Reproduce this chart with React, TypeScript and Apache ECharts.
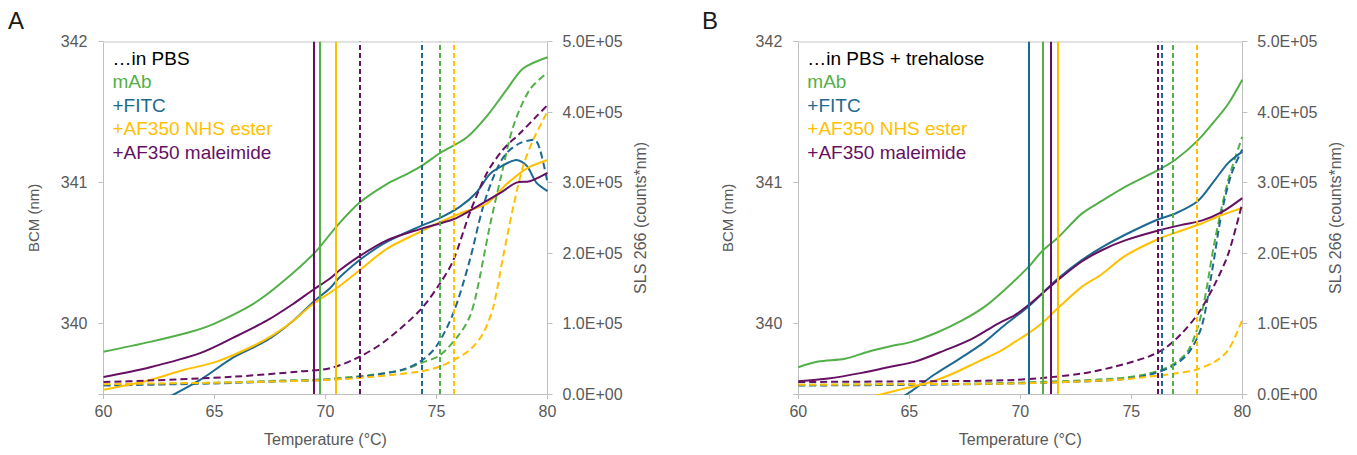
import { useEffect, useRef } from "react";
import * as echarts from "echarts";

const FONT = "'Liberation Sans', Arial, Helvetica, sans-serif";
const AXIS_COLOR = "#BFBFBF";
const TOP_LINE_COLOR = "#D9D9D9";
const LABEL_COLOR = "#595959";

const temperatureRange = [60, 80];
const temperatureInterval = 5;
const bcmRange = [339.5, 342];
const bcmLabelTicks = [340, 341, 342];
const bcmTickMarks = [339.5, 340, 341, 342];
const slsRange = [0, 500000];
const slsInterval = 100000;

const sampleNames = ["mAb", "+FITC", "+AF350 NHS ester", "+AF350 maleimide"];
const sampleColors = ["#53B048", "#1D6991", "#FFC000", "#661064"];
const panelTitles = ["…in PBS", "…in PBS + trehalose"];
const panelLetters = ["A", "B"];

// ---------- Panel A: in PBS ----------
const aMabBcm = [[60, 339.8], [62.1, 339.87], [63.9, 339.94], [65, 340.0], [66.75, 340.14], [67.95, 340.28], [69.5, 340.5], [70.5, 340.69], [71.55, 340.86], [72.76, 340.99], [73.66, 341.06], [74.35, 341.12], [75.16, 341.21], [76.36, 341.32], [77.26, 341.47], [78.16, 341.66], [78.9, 341.81], [80, 341.89]];
const aFitcBcm = [[62.6, 339.45], [64.35, 339.6], [65.85, 339.76], [67.35, 339.88], [68.55, 340.02], [69.5, 340.16], [70.2, 340.25], [70.65, 340.33], [71.7, 340.47], [72.76, 340.58], [74.26, 340.69], [75.16, 340.75], [76.06, 340.83], [76.8, 340.93], [77.4, 341.06], [77.86, 341.11], [78.6, 341.16], [79.06, 341.12], [79.5, 341.0], [80, 340.94]];
const aNhsBcm = [[60, 339.53], [62.1, 339.6], [63.6, 339.67], [65.1, 339.73], [66.6, 339.83], [67.65, 339.92], [68.55, 340.02], [69.45, 340.14], [70.5, 340.25], [71.55, 340.38], [72.76, 340.53], [74.26, 340.65], [75.16, 340.72], [76.2, 340.79], [77.26, 340.85], [78.16, 340.99], [79.06, 341.1], [80, 341.16]];
const aMalBcm = [[60, 339.62], [62.1, 339.69], [64.35, 339.79], [65.85, 339.9], [67.35, 340.02], [68.55, 340.14], [69.45, 340.24], [70.2, 340.32], [70.65, 340.38], [71.55, 340.48], [72.76, 340.59], [74.26, 340.67], [75.76, 340.74], [76.5, 340.8], [77.26, 340.87], [78.0, 340.94], [78.6, 341.0], [79.2, 341.01], [80, 341.07]];

const aMabSls = [[60, 13000], [65, 16000], [68, 19000], [70, 21000], [72, 27000], [73.5, 34000], [74.3, 44000], [75.16, 55000], [76.06, 86000], [76.5, 110000], [76.8, 143000], [77.4, 238000], [77.94, 313000], [78.46, 380000], [79.2, 432000], [80, 456000]];
const aFitcSls = [[60, 12000], [65, 15000], [68, 18000], [70, 20000], [72, 26000], [73.5, 35000], [74.26, 46000], [74.98, 67000], [75.76, 115000], [76.5, 190000], [77.1, 266000], [77.7, 318000], [78.16, 342000], [78.76, 356000], [79.4, 361000], [79.66, 347000], [80, 300000]];
const aNhsSls = [[60, 14000], [65, 16000], [68, 18000], [70, 20000], [72, 24000], [74.26, 32000], [75.16, 39000], [75.76, 48000], [76.5, 62500], [77.1, 86000], [77.56, 124000], [78.0, 195000], [78.46, 266000], [78.9, 323000], [79.36, 361000], [80, 401000]];
const aMalSls = [[60, 17000], [62, 19000], [65.85, 24500], [68.85, 32000], [70.2, 36500], [71.55, 53000], [72.76, 77000], [74.26, 119000], [75.16, 157000], [75.76, 190000], [76.5, 257000], [77.26, 313000], [78.0, 347000], [78.76, 370000], [79.5, 394000], [80, 410000]];

const aTm = [69.75, null, 70.47, 69.45];
const aTagg = [75.16, 74.34, 75.76, 71.55];

// ---------- Panel B: in PBS + trehalose ----------
const bMabBcm = [[60, 339.69], [60.9, 339.73], [62.1, 339.75], [63.15, 339.8], [64.2, 339.84], [65.1, 339.87], [66.3, 339.94], [67.36, 340.02], [68.4, 340.12], [69.3, 340.24], [70.36, 340.4], [70.96, 340.51], [71.7, 340.61], [72.77, 340.78], [73.67, 340.87], [74.72, 340.97], [76.22, 341.09], [76.97, 341.16], [78.0, 341.3], [78.77, 341.44], [79.37, 341.56], [80, 341.73]];
const bFitcBcm = [[64.6, 339.47], [65.1, 339.52], [66.15, 339.64], [67.36, 339.76], [68.4, 339.87], [69.3, 339.99], [70.36, 340.12], [70.96, 340.21], [71.7, 340.32], [72.77, 340.45], [73.67, 340.54], [74.72, 340.63], [76.22, 340.74], [76.97, 340.78], [78.0, 340.87], [78.77, 341.02], [79.37, 341.14], [80, 341.22]];
const bNhsBcm = [[63.3, 339.48], [64.8, 339.54], [65.86, 339.58], [66.9, 339.64], [68.1, 339.73], [69.16, 339.81], [69.76, 339.87], [70.36, 339.93], [70.96, 340.0], [71.7, 340.11], [72.77, 340.26], [73.67, 340.35], [74.72, 340.48], [76.22, 340.6], [77.27, 340.66], [78.17, 340.71], [79.07, 340.77], [80, 340.82]];
const bMalBcm = [[60, 339.59], [61.35, 339.61], [62.86, 339.65], [64.05, 339.69], [65.26, 339.73], [66.6, 339.81], [67.8, 339.89], [69.0, 340.0], [69.76, 340.06], [70.36, 340.13], [70.96, 340.21], [71.7, 340.31], [72.77, 340.44], [73.67, 340.52], [74.72, 340.59], [76.22, 340.66], [77.27, 340.7], [78.17, 340.73], [79.07, 340.79], [80, 340.89]];

const bMabSls = [[60, 13000], [65, 14000], [69.76, 16000], [74.27, 22000], [75.77, 29000], [76.82, 41000], [77.57, 62000], [78.17, 115000], [78.77, 219000], [79.37, 304000], [80, 365000]];
const bFitcSls = [[60, 12000], [65, 13000], [69.76, 15000], [74.27, 20000], [75.77, 27000], [76.82, 39000], [77.57, 58000], [78.17, 96000], [78.62, 171000], [79.07, 257000], [79.52, 313000], [80, 347000]];
const bNhsSls = [[60, 13000], [65, 14000], [69.76, 15000], [74.27, 20000], [75.77, 24500], [76.97, 29000], [77.87, 34000], [78.77, 46000], [79.37, 62500], [80, 105000]];
const bMalSls = [[60, 17000], [65, 18000], [69.76, 20000], [72.77, 29000], [74.27, 39000], [75.77, 53000], [76.52, 65000], [77.27, 86000], [78.03, 115000], [78.78, 157000], [79.38, 200000], [80, 271000]];

const bTm = [70.99, 70.39, 71.68, 71.38];
const bTagg = [76.88, 76.37, 77.97, 76.19];

const panels = [
  { bcm: [aMabBcm, aFitcBcm, aNhsBcm, aMalBcm], sls: [aMabSls, aFitcSls, aNhsSls, aMalSls], tm: aTm, tagg: aTagg },
  { bcm: [bMabBcm, bFitcBcm, bNhsBcm, bMalBcm], sls: [bMabSls, bFitcSls, bNhsSls, bMalSls], tm: bTm, tagg: bTagg },
];

const grids = [
  { left: 103.5, right: 809.5, top: 41.7, bottom: 61 },
  { left: 798.3, right: 114.7, top: 41.7, bottom: 61 },
];

function formatSci(v: number) {
  if (v === 0) return "0.0E+00";
  const exp = Math.floor(Math.log10(Math.abs(v)));
  const mant = v / Math.pow(10, exp);
  return mant.toFixed(1) + "E+" + String(exp).padStart(2, "0");
}

function buildOption() {
  const textStyle = { fontFamily: FONT, color: LABEL_COLOR, fontSize: 16 };
  const xAxis: any[] = [];
  const yAxis: any[] = [];
  const series: any[] = [];
  const graphic: any[] = [];

  panels.forEach((p, g) => {
    xAxis.push({
      type: "value", gridIndex: g, min: temperatureRange[0], max: temperatureRange[1], interval: temperatureInterval,
      axisLine: { show: true, onZero: false, lineStyle: { color: AXIS_COLOR, width: 1 } },
      axisTick: { show: true, length: 5, lineStyle: { color: AXIS_COLOR } },
      axisLabel: { ...textStyle, margin: 9 },
      splitLine: { show: false },
      name: "Temperature (°C)", nameLocation: "middle", nameGap: 37,
      nameTextStyle: { ...textStyle },
    });
    xAxis.push({
      type: "value", gridIndex: g, position: "top", min: temperatureRange[0], max: temperatureRange[1],
      axisLine: { show: true, onZero: false, lineStyle: { color: TOP_LINE_COLOR, width: 1.5 } },
      axisTick: { show: false }, axisLabel: { show: false }, splitLine: { show: false },
    });
    yAxis.push({
      type: "value", gridIndex: g, position: "left", min: bcmRange[0], max: bcmRange[1],
      axisLine: { show: true, onZero: false, lineStyle: { color: AXIS_COLOR, width: 1 } },
      axisTick: { show: true, length: 5, customValues: bcmTickMarks, lineStyle: { color: AXIS_COLOR } },
      axisLabel: { ...textStyle, margin: 16, customValues: bcmLabelTicks },
      splitLine: { show: false },
      name: "BCM (nm)", nameLocation: "middle", nameGap: 63,
      nameTextStyle: { ...textStyle, fontSize: 15 },
    });
    yAxis.push({
      type: "value", gridIndex: g, position: "right", min: slsRange[0], max: slsRange[1], interval: slsInterval,
      axisLine: { show: true, onZero: false, lineStyle: { color: AXIS_COLOR, width: 1 } },
      axisTick: { show: true, length: 5, lineStyle: { color: AXIS_COLOR } },
      axisLabel: { ...textStyle, margin: 15, formatter: (v: number) => formatSci(v) },
      splitLine: { show: false },
      name: "SLS 266 (counts*nm)", nameLocation: "middle", nameGap: 85,
      nameTextStyle: { ...textStyle },
    });

    sampleNames.forEach((name, i) => {
      const color = sampleColors[i];
      const marks: any[] = [];
      if (p.tm[i] != null) marks.push({ xAxis: p.tm[i], lineStyle: { color, width: 2, type: "solid" } });
      if (p.tagg[i] != null) marks.push({ xAxis: p.tagg[i], lineStyle: { color, width: 2, type: [5, 3] } });
      series.push({
        name: name + " BCM " + panelLetters[g], type: "line", xAxisIndex: g * 2, yAxisIndex: g * 2,
        data: p.bcm[i], smooth: 0.3, symbol: "none", showSymbol: false, clip: true,
        lineStyle: { color, width: 2 }, itemStyle: { color },
        markLine: { silent: true, symbol: ["none", "none"], label: { show: false }, data: marks },
      });
      series.push({
        name: name + " SLS " + panelLetters[g], type: "line", xAxisIndex: g * 2, yAxisIndex: g * 2 + 1,
        data: p.sls[i], smooth: 0.3, symbol: "none", showSymbol: false, clip: true,
        lineStyle: { color, width: 2, type: [7, 4] }, itemStyle: { color },
      });
    });

    const gr = grids[g];
    graphic.push({
      type: "text", left: g === 0 ? 8 : 702, top: 8,
      style: { text: panelLetters[g], fontFamily: FONT, fontSize: 24, fill: "#1a1a1a" },
    });
    const lines = [panelTitles[g], ...sampleNames];
    const colors = ["#000000", ...sampleColors];
    lines.forEach((t, k) => {
      graphic.push({
        type: "text", x: gr.left + 9, y: 58 + k * 23.5,
        style: { text: t, fontFamily: FONT, fontSize: 19, fill: colors[k], verticalAlign: "middle", align: "left" },
      });
    });
  });

  return {
    animation: false,
    backgroundColor: "#ffffff",
    grid: grids.map((g) => ({ ...g, containLabel: false })),
    xAxis, yAxis, series, graphic,
  };
}

export default function App() {
  const ref = useRef<HTMLDivElement>(null);
  useEffect(() => {
    if (!ref.current) return;
    const chart = echarts.init(ref.current, undefined, { renderer: "svg" });
    chart.setOption(buildOption() as any);
    return () => chart.dispose();
  }, []);
  return <div ref={ref} style={{ position: "absolute", left: 0, top: 0, width: 1357, height: 455 }} />;
}
